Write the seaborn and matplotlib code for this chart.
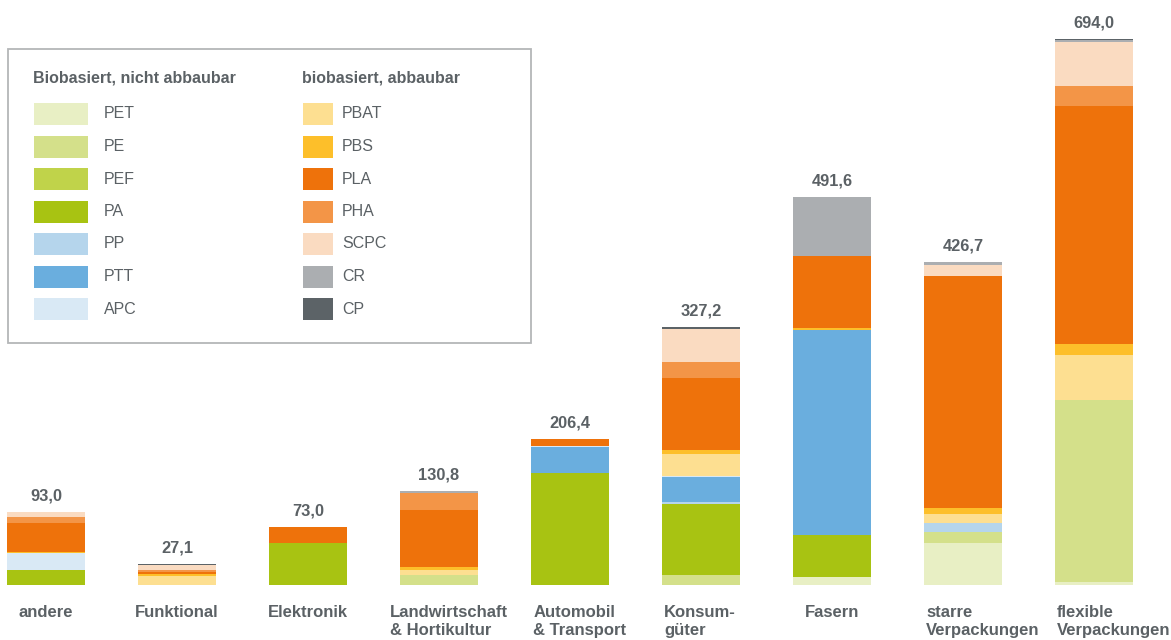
import numpy as np
import pandas as pd
import matplotlib
matplotlib.use("Agg")
import matplotlib.pyplot as plt
from matplotlib.patches import Rectangle
import seaborn as sns

# Categories (x axis)
categories = ["andere", "Funktional", "Elektronik", "Landwirtschaft\n& Hortikultur",
              "Automobil\n& Transport", "Konsum-\ngüter", "Fasern",
              "starre\nVerpackungen", "flexible\nVerpackungen"]

# Printed totals above the bars
totals = [93.0, 27.1, 73.0, 130.8, 206.4, 327.2, 491.6, 426.7, 694.0]

# Segment values per material, bottom to top
PET = [0, 0, 0, 0, 0, 0, 9.7, 52.7, 3.3]
PE = [0, 0, 0, 13.0, 0, 12.7, 0, 14.3, 231.2]
PEF = [0, 0, 0, 0, 0, 0, 0, 0.7, 0]
PA = [18.5, 0, 53.2, 0, 142.2, 89.9, 53.2, 0, 0]
PP = [0, 0, 0, 0, 0, 2.0, 0, 11.4, 0]
PTT = [0, 0, 0, 0, 32.5, 32.1, 260.5, 0, 0]
APC = [22.4, 0, 0, 0, 1.5, 1.2, 0, 0, 0]
PBAT = [0, 11.0, 0, 5.4, 0, 27.8, 0, 11.4, 57.0]
PBS = [1.3, 3.4, 0, 3.8, 0, 5.1, 2.1, 6.8, 13.9]
PLA = [36.7, 2.1, 19.8, 73.0, 8.9, 91.6, 91.6, 294.5, 301.3]
PHA = [7.2, 2.1, 0, 21.1, 0, 19.8, 0, 0, 25.3]
SCPC = [6.9, 7.2, 0, 0, 0, 42.2, 0, 13.9, 55.7]
CR = [0, 0, 0, 2.5, 0, 0, 73.8, 3.4, 2.5]
CP = [0, 1.3, 0, 0, 0, 2.0, 0, 0, 1.7]

group_left = ["PET", "PE", "PEF", "PA", "PP", "PTT", "APC"]
group_right = ["PBAT", "PBS", "PLA", "PHA", "SCPC", "CR", "CP"]

colors = {
    "PET": "#e8efc4", "PE": "#d4e08a", "PEF": "#c0d34a", "PA": "#a8c312",
    "PP": "#b5d5ec", "PTT": "#6aaede", "APC": "#d9e9f5",
    "PBAT": "#fddf91", "PBS": "#fdbf2a", "PLA": "#ee720b", "PHA": "#f39547",
    "SCPC": "#fadbc1", "CR": "#abaeb1", "CP": "#5c6367",
}

df = pd.DataFrame({
    "PET": PET, "PE": PE, "PEF": PEF, "PA": PA, "PP": PP, "PTT": PTT, "APC": APC,
    "PBAT": PBAT, "PBS": PBS, "PLA": PLA, "PHA": PHA, "SCPC": SCPC, "CR": CR, "CP": CP,
}, index=categories)

sns.set_style("white")
plt.rcParams['font.family'] = ['Liberation Sans', 'DejaVu Sans']
text_color = "#5b6165"

fig = plt.figure(figsize=(11.71, 6.4), dpi=100)
ax = fig.add_axes([0, 55 / 640, 1, 585 / 640])

# Stacked bars: draw cumulative sums from top layer down
materials = group_left + group_right
cum = df[materials].cumsum(axis=1)
for m in reversed(materials):
    sns.barplot(x=categories, y=cum[m].values, order=categories, color=colors[m],
                saturation=1, width=0.595, linewidth=0, ax=ax)

ax.set_xlim(-46 / 131, (1171 - 46) / 131)
ax.set_ylim(0, 585 / 0.7896)
ax.axis("off")

# Totals above bars
bar_tops = cum[materials[-1]].values
for i, (top, t) in enumerate(zip(bar_tops, totals)):
    ax.annotate(f"{t:.1f}".replace(".", ","), xy=(i, top), xytext=(0, 11.5),
                textcoords="offset points", ha="center", va="center",
                fontsize=11.8, fontweight="bold", color=text_color)

# Category labels under bars
for i, lab in enumerate(categories):
    if "\n" in lab:
        dx = -7 if lab.startswith("Landwirtschaft") else 1.5
        ax.annotate(lab, xy=(i - 0.2975, 0), xytext=(dx, -14.5), textcoords="offset points",
                    ha="left", va="top", fontsize=12, fontweight="bold",
                    color=text_color, linespacing=1.28, annotation_clip=False)
    else:
        ax.annotate(lab, xy=(i, 0), xytext=(0, -14.5), textcoords="offset points",
                    ha="center", va="top", fontsize=12, fontweight="bold",
                    color=text_color, annotation_clip=False)

# Legend box in pixel coordinates
lax = fig.add_axes([0, 0, 1, 1])
lax.set_xlim(0, 1171)
lax.set_ylim(640, 0)
lax.axis("off")
lax.patch.set_alpha(0)

lax.add_patch(Rectangle((8, 49), 523, 294, fill=False, edgecolor="#b4b6b8", lw=1.3))
lax.text(33, 78, "Biobasiert, nicht abbaubar", fontsize=11.5, fontweight="bold",
         color=text_color, va="center", ha="left")
lax.text(302, 78, "biobasiert, abbaubar", fontsize=11.5, fontweight="bold",
         color=text_color, va="center", ha="left")

for k, (ml, mr) in enumerate(zip(group_left, group_right)):
    y = 114 + 32.5 * k
    lax.add_patch(Rectangle((34, y - 11), 54, 22, color=colors[ml], lw=0))
    lax.text(104, y, ml, fontsize=11.5, color=text_color, va="center", ha="left")
    lax.add_patch(Rectangle((303, y - 11), 30, 22, color=colors[mr], lw=0))
    lax.text(342, y, mr, fontsize=11.5, color=text_color, va="center", ha="left")

fig.savefig("out.png", dpi=100)
